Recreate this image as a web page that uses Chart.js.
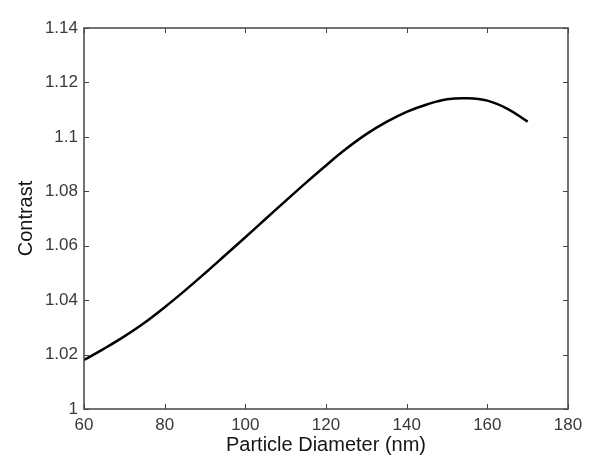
<!DOCTYPE html>
<html>
<head>
<meta charset="utf-8">
<script src="https://cdn.jsdelivr.net/npm/chart.js@4/dist/chart.umd.min.js"></script>
<style>
  html, body { margin: 0; padding: 0; background: #fff; }
  #wrap { width: 600px; height: 470px; }
</style>
</head>
<body>
<div id="wrap"><canvas id="myChart" width="600" height="470"></canvas></div>
<script>
const diameters = [60, 65, 70, 75, 80, 85, 90, 95, 100, 105, 110, 115, 120, 125, 130, 135, 140, 145, 150, 155, 160, 165, 170];
const contrast = [1.018, 1.0222, 1.0267, 1.0317, 1.0374, 1.0435, 1.0499, 1.0565, 1.0631, 1.0698, 1.0765, 1.0831, 1.0895,
  1.0956, 1.1010, 1.1055, 1.1092, 1.1119, 1.1138, 1.1142, 1.1133, 1.1103, 1.1056];
const xTicks = [60, 80, 100, 120, 140, 160, 180];
const yTicks = [1, 1.02, 1.04, 1.06, 1.08, 1.1, 1.12, 1.14];

const axisColor = '#444';
const fontFamily = 'Liberation Sans, Arial, sans-serif';
const labelFont = { family: fontFamily, size: 17 };
const titleFont = { family: fontFamily, size: 20 };

// MATLAB style box with inward ticks
const frame = {
  id: 'frame',
  afterDraw(chart) {
    const { ctx, chartArea: a, scales } = chart;
    const len = 5;
    ctx.save();
    ctx.strokeStyle = axisColor;
    ctx.lineWidth = 1.5;
    ctx.strokeRect(a.left, a.top, a.right - a.left, a.bottom - a.top);
    ctx.lineWidth = 1;
    ctx.beginPath();
    xTicks.forEach(v => {
      const px = Math.round(scales.x.getPixelForValue(v)) + 0.5;
      ctx.moveTo(px, a.bottom); ctx.lineTo(px, a.bottom - len);
      ctx.moveTo(px, a.top); ctx.lineTo(px, a.top + len);
    });
    yTicks.forEach(v => {
      const py = Math.round(scales.y.getPixelForValue(v)) + 0.5;
      ctx.moveTo(a.left, py); ctx.lineTo(a.left + len, py);
      ctx.moveTo(a.right, py); ctx.lineTo(a.right - len, py);
    });
    ctx.stroke();
    ctx.restore();
  }
};

const data = {
  datasets: [{
    label: 'Contrast',
    data: diameters.map((d, i) => ({ x: d, y: contrast[i] })),
    borderColor: '#000',
    borderWidth: 2.5,
    pointRadius: 0,
    fill: false,
    tension: 0.4
  }]
};

const config = {
  type: 'line',
  data,
  options: {
    responsive: false,
    animation: false,
    layout: { padding: { left: 0, top: 28, right: 32, bottom: 0 } },
    plugins: { legend: { display: false }, tooltip: { enabled: false } },
    scales: {
      x: {
        type: 'linear',
        min: 60,
        max: 180,
        afterBuildTicks: s => { s.ticks = xTicks.map(v => ({ value: v })); },
        afterFit: s => { s.height = 61; },
        grid: { display: false, drawTicks: false },
        border: { display: false },
        ticks: { color: '#3a3a3a', font: labelFont, padding: 6, maxRotation: 0 },
        title: {
          display: true,
          text: 'Particle Diameter (nm)',
          color: '#151515',
          font: titleFont,
          padding: { top: 0, bottom: 13 }
        }
      },
      y: {
        min: 1,
        max: 1.14,
        afterBuildTicks: s => { s.ticks = yTicks.map(v => ({ value: v })); },
        afterFit: s => { s.width = 84; },
        grid: { display: false, drawTicks: false },
        border: { display: false },
        ticks: {
          color: '#3a3a3a',
          font: labelFont,
          padding: 6,
          callback: v => parseFloat(v.toFixed(2)).toString()
        },
        title: {
          display: true,
          text: 'Contrast',
          color: '#151515',
          font: titleFont,
          padding: { top: 14, bottom: 0 }
        }
      }
    }
  },
  plugins: [frame]
};

const myChart = new Chart(document.getElementById('myChart'), config);
</script>
</body>
</html>
